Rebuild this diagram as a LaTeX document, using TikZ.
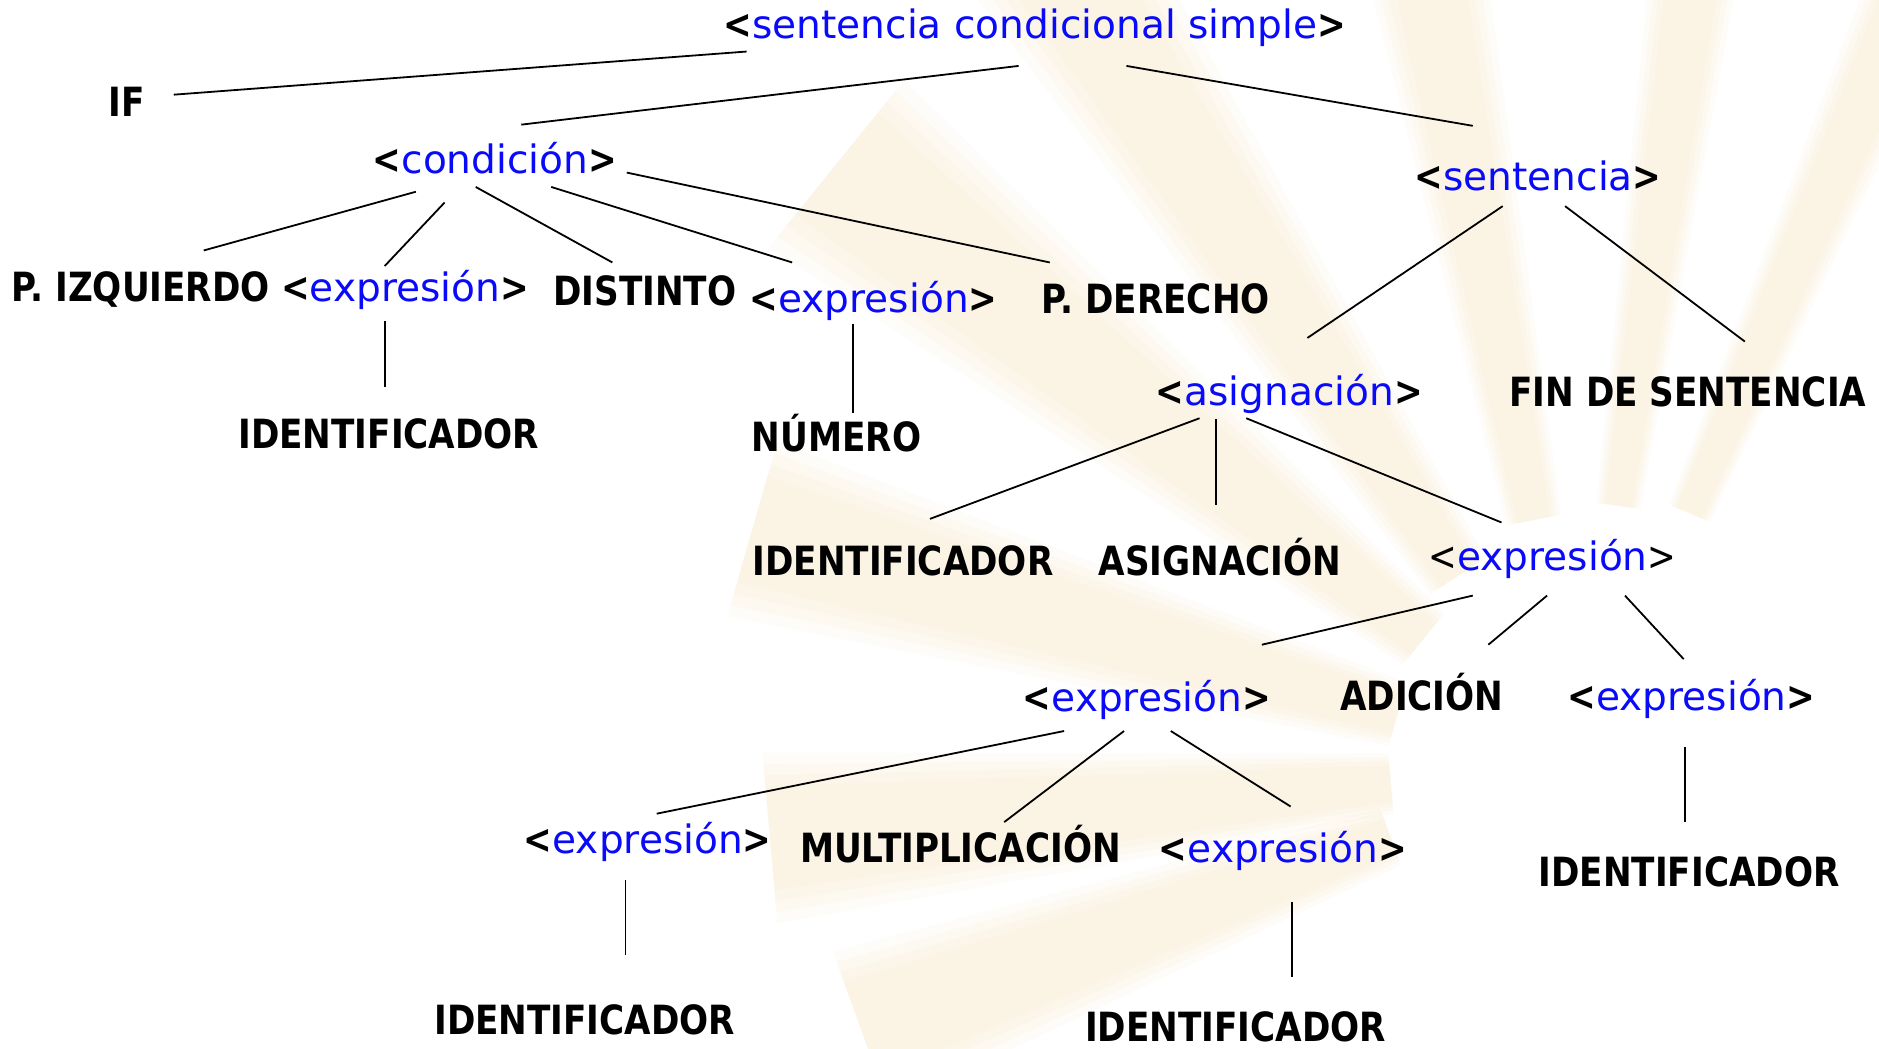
\documentclass[tikz,border=0pt]{standalone}
\usepackage{fontspec}
\setmainfont{DejaVu Sans}
\newfontfamily\blkfont{DejaVu Sans}[FakeStretch=0.85]
\usetikzlibrary{calc}
\definecolor{ntblue}{RGB}{10,10,250}
\definecolor{raycol}{RGB}{245,200,120}
\newcommand{\ntm}[1]{{\blkfont\bfseries\fontsize{16.8}{20}\selectfont<}{\color{ntblue}\rmfamily\mdseries\fontsize{16.3}{20}\selectfont #1}{\blkfont\bfseries\fontsize{16.8}{20}\selectfont>}}
\newcommand{\ntmthin}[1]{{\blkfont\mdseries\fontsize{16.8}{20}\selectfont<}{\color{ntblue}\rmfamily\mdseries\fontsize{16.3}{20}\selectfont #1}{\blkfont\mdseries\fontsize{16.8}{20}\selectfont>}}
\tikzset{
  term/.style={inner sep=0pt, anchor=base, text=black, font=\blkfont\bfseries\fontsize{16.8}{20}\selectfont},
  nonterm/.style={inner sep=0pt, anchor=base, font=\fontsize{16.3}{20}\selectfont},
  edge/.style={draw=black, line width=0.75pt},
  ray/.style={fill=raycol, fill opacity=0.05, draw=none},
}
\begin{document}
\begin{tikzpicture}[x=0.5pt, y=-0.5pt]
\useasboundingbox (0,0) rectangle (1568,875);
\fill[white] (0,0) rectangle (1568,875);
\begin{scope}
\clip (0,0) rectangle (1568,875);
\begin{scope}[shift={(1320,640)}]
\foreach \th/\ri/\wi/\ro/\wo in {141/170/24/800/78, 164/160/24/720/66, 185/160/22/680/62, 200/170/22/640/60, 123/190/24/900/70, 101/210/20/900/54, 82/220/16/900/40, 67/230/16/900/40}{
  \pgfmathsetmacro\aa{-\th}
  \foreach \k in {1.15,1.0,0.85,0.7}{
    \fill[ray] ($(\aa:\ri)+(\aa+90:\k*\wi)$) -- ($(\aa:\ro)+(\aa+90:\k*\wo)$)
      -- ($(\aa:\ro)+(\aa-90:\k*\wo)$) -- ($(\aa:\ri)+(\aa-90:\k*\wi)$) -- cycle;
  }
}
\end{scope}
\end{scope}

\node[nonterm] (root) at (863.5,32.5) {\ntm{sentencia condicional simple}};
\node[term] (if) at (106,97) {IF};
\node[nonterm] (cond) at (413,145) {\ntm{condición}};
\node[nonterm] (sent) at (1283.5,159) {\ntm{sentencia}};
\node[term] (pizq) at (117.5,252) {P. IZQUIERDO};
\node[nonterm] (ex1) at (338,252) {\ntm{expresión}};
\node[term] (dist) at (538,255) {DISTINTO};
\node[nonterm] (ex2) at (729,261) {\ntm{expresión}};
\node[term] (pder) at (964.5,262) {P. DERECHO};
\node[term] (id1) at (324.5,374) {IDENTIFICADOR};
\node[term] (num) at (698,376.5) {NÚMERO};
\node[nonterm] (asig) at (1076,338) {\ntm{asignación}};
\node[term] (fin) at (1408.5,339) {FIN DE SENTENCIA};
\node[term] (id2) at (753.5,480) {IDENTIFICADOR};
\node[term] (asg) at (1018,480) {ASIGNACIÓN};
\node[nonterm] (ex3) at (1295.5,476) {\ntmthin{expresión}};
\node[nonterm] (ex4) at (957,594) {\ntm{expresión}};
\node[term] (adi) at (1186.5,593) {ADICIÓN};
\node[nonterm] (ex5) at (1411.5,593) {\ntm{expresión}};
\node[nonterm] (ex6) at (540.5,712) {\ntm{expresión}};
\node[term] (mult) at (801.5,720) {MULTIPLICACIÓN};
\node[nonterm] (ex7) at (1070.5,720) {\ntm{expresión}};
\node[term] (id3) at (488,863) {IDENTIFICADOR};
\node[term] (id4) at (1031,869.5) {IDENTIFICADOR};
\node[term] (id5) at (1409.5,740) {IDENTIFICADOR};

\draw[edge] ($(root.base)+(-240.5,10.5)$) -- ($(if.base)+(39,-18)$);
\draw[edge] ($(root.base)+(-13.5,22.5)$) -- ($(cond.base)+(22,-41)$);
\draw[edge] ($(root.base)+(76.5,22.5)$) -- ($(sent.base)+(-54.5,-54)$);
\draw[edge] ($(cond.base)+(-66,15)$) -- ($(pizq.base)+(52.5,-43)$);
\draw[edge] ($(cond.base)+(-42,24)$) -- ($(ex1.base)+(-17,-30)$);
\draw[edge] ($(cond.base)+(-16,11)$) -- ($(dist.base)+(-27,-36)$);
\draw[edge] ($(cond.base)+(47,11)$) -- ($(ex2.base)+(-68,-42)$);
\draw[edge] ($(cond.base)+(110,-1)$) -- ($(pder.base)+(-88.5,-43)$);
\draw[edge] ($(ex1.base)+(-17,16)$) -- ($(id1.base)+(-3.5,-51)$);
\draw[edge] ($(ex2.base)+(-17,9)$) -- ($(num.base)+(14,-31.5)$);
\draw[edge] ($(sent.base)+(-29.5,13)$) -- ($(asig.base)+(15,-56)$);
\draw[edge] ($(sent.base)+(22.5,13)$) -- ($(fin.base)+(47.5,-54)$);
\draw[edge] ($(asig.base)+(-75,11)$) -- ($(id2.base)+(22.5,-47)$);
\draw[edge] ($(asig.base)+(-61,12)$) -- ($(asg.base)+(-3,-59)$);
\draw[edge] ($(asig.base)+(-36,11)$) -- ($(ex3.base)+(-42.5,-40)$);
\draw[edge] ($(ex3.base)+(-66.5,21)$) -- ($(ex4.base)+(96,-56)$);
\draw[edge] ($(ex3.base)+(-4.5,21)$) -- ($(adi.base)+(55.5,-55)$);
\draw[edge] ($(ex3.base)+(60.5,21)$) -- ($(ex5.base)+(-6.5,-43)$);
\draw[edge] ($(ex4.base)+(-69,16)$) -- ($(ex6.base)+(7.5,-33)$);
\draw[edge] ($(ex4.base)+(-19,16)$) -- ($(mult.base)+(36.5,-34)$);
\draw[edge] ($(ex4.base)+(20,16)$) -- ($(ex7.base)+(6.5,-47)$);
\draw[edge] ($(ex6.base)+(-18.5,22)$) -- ($(id3.base)+(34,-66)$);
\draw[edge] ($(ex7.base)+(7.5,33)$) -- ($(id4.base)+(47,-54.5)$);
\draw[edge] ($(ex5.base)+(-5.5,30)$) -- ($(id5.base)+(-3.5,-54)$);
\end{tikzpicture}
\end{document}
